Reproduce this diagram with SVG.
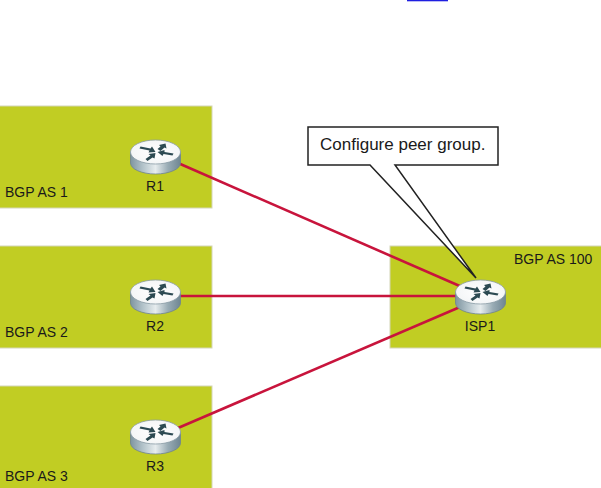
<svg xmlns="http://www.w3.org/2000/svg" width="601" height="488" viewBox="0 0 601 488">
<style>
.area{fill:#c1cd23;stroke:#d4d6b8;stroke-width:1}
.t{font-family:"Liberation Sans",Arial,sans-serif;font-size:14px;fill:#1a1a1a}
.m{text-anchor:middle}
.link{stroke:#c8143c;stroke-width:2.6;fill:none}
.arw{fill:#2c4a52}
</style>
<defs>
<linearGradient id="side" x1="0" x2="1" y1="0" y2="0">
<stop offset="0" stop-color="#7f95a0"/><stop offset="0.25" stop-color="#b3c3ca"/><stop offset="0.5" stop-color="#e6ecee"/><stop offset="0.75" stop-color="#98abb4"/><stop offset="1" stop-color="#6f8692"/>
</linearGradient>
<radialGradient id="top" cx="0.5" cy="0.5" r="0.6"><stop offset="0" stop-color="#ffffff"/><stop offset="0.8" stop-color="#f4f6f7"/><stop offset="1" stop-color="#d5dde1"/></radialGradient>
<g id="router">
<path d="M-25 12V23A25 11 0 0 0 25 23V12Z" fill="url(#side)" stroke="#6f8490" stroke-width="0.8"/>
<ellipse cx="0" cy="12" rx="25" ry="12" fill="url(#top)" stroke="#8a9ca6" stroke-width="0.8"/>
<path class="arw" d="M-15 6.500L-5 8.500L-3.500 6.500L0 12L-7 12.500L-6 10.500L-16 8.500Z"/>
<path class="arw" d="M2 9L5 6.500L3.500 5L10 3.500L11 8.500L9 7.500L5 11Z"/>
<path class="arw" d="M-10 19L-5 15.500L-7 14L0 13L-1 18.500L-3 17.500L-8 21Z"/>
<path class="arw" d="M2 12L9 10L9 12L18 13.500L17 15.500L8 14L7 16Z"/>
</g>
</defs>
<rect x="407" y="0" width="41" height="1.300" fill="#1f1fe0"/>
<g id="area-as1"><rect class="area" x="-1" y="106" width="213" height="102"/><text class="t" x="5" y="197">BGP AS 1</text></g>
<g id="area-as2"><rect class="area" x="-1" y="246" width="213" height="102"/><text class="t" x="5" y="337">BGP AS 2</text></g>
<g id="area-as3"><rect class="area" x="-1" y="386" width="213" height="103"/><text class="t" x="5" y="481">BGP AS 3</text></g>
<g id="area-as100"><rect class="area" x="390" y="246" width="212" height="102"/><text class="t" x="514" y="264">BGP AS 100</text></g>
<g id="connectors">
<line class="link" x1="178" y1="163" x2="462" y2="287"/>
<line class="link" x1="178" y1="296" x2="460" y2="296"/>
<line class="link" x1="178" y1="428" x2="460" y2="307"/>
</g>
<g id="callout">
<path d="M308 127H498V165H395L476 278L370 165H308Z" fill="#fff" stroke="#222" stroke-width="1.500"/>
<text class="t" x="320" y="150" style="font-size:17px">Configure peer group.</text>
</g>
<g id="R1"><use href="#router" x="155.500" y="140"/><text class="t m" x="155" y="191">R1</text></g>
<g id="R2"><use href="#router" x="155.500" y="280"/><text class="t m" x="155" y="331">R2</text></g>
<g id="R3"><use href="#router" x="155.500" y="420"/><text class="t m" x="155" y="471">R3</text></g>
<g id="ISP1"><use href="#router" x="480.500" y="280"/><text class="t m" x="480" y="331">ISP1</text></g>
</svg>
